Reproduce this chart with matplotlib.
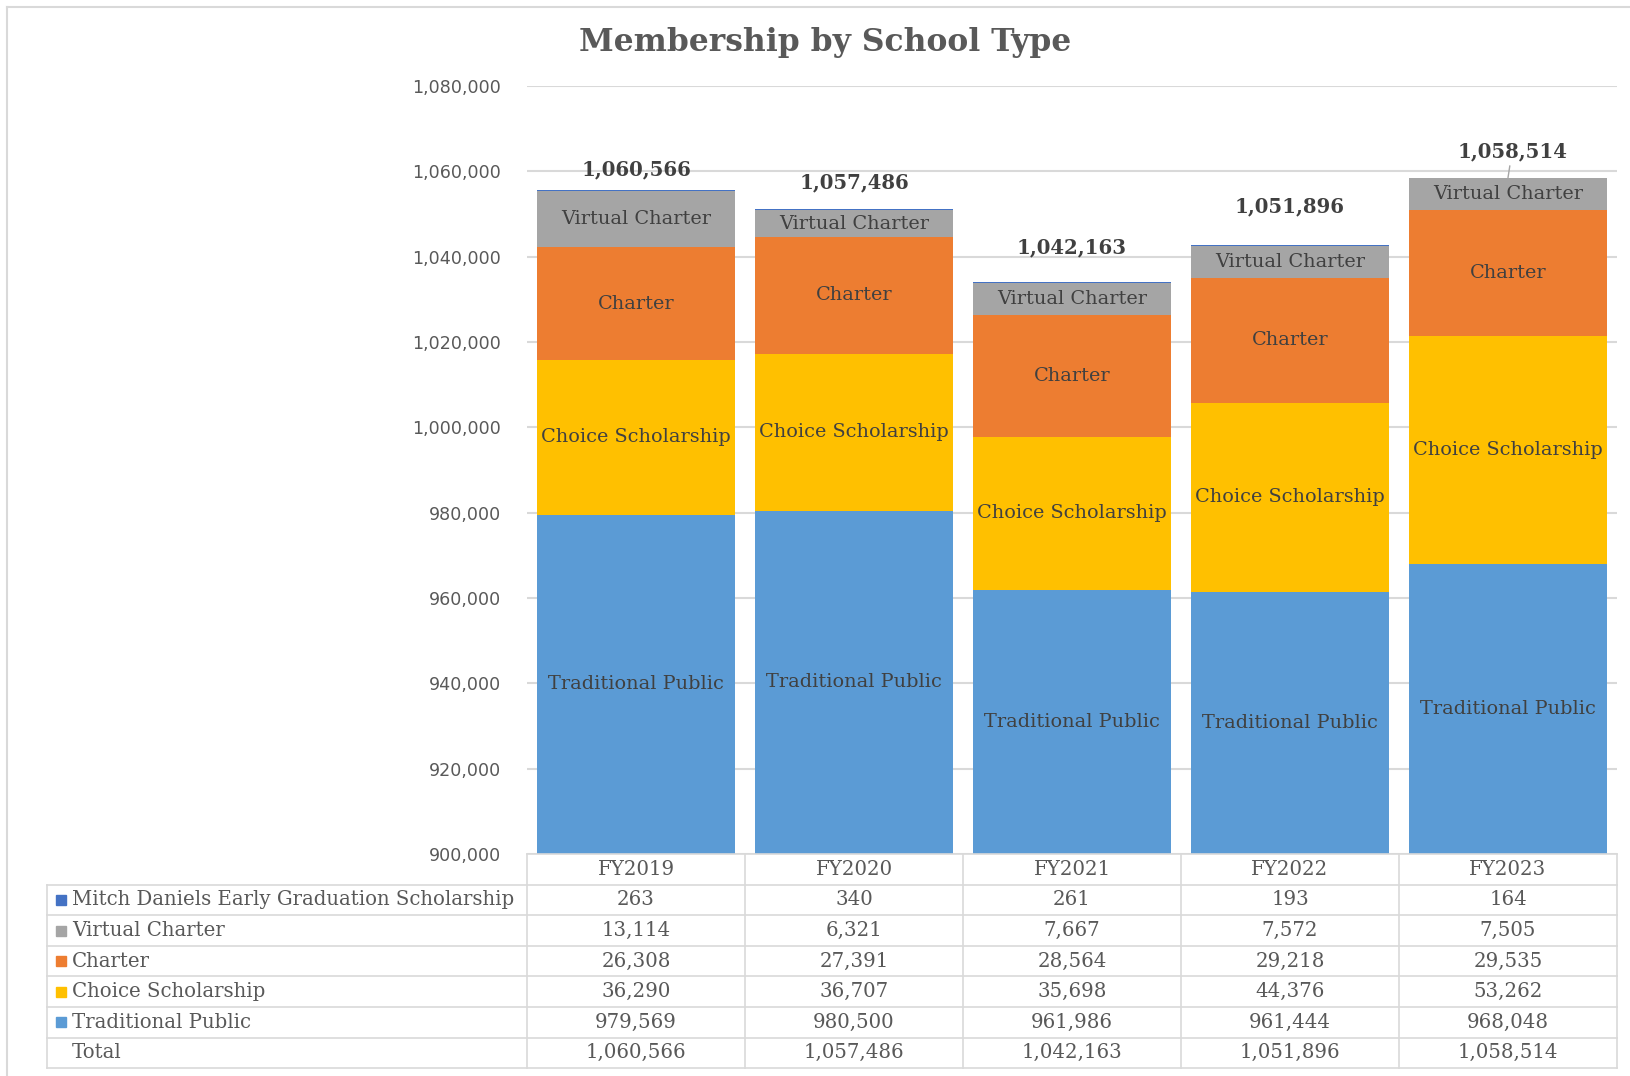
import numpy as np
import matplotlib.pyplot as plt
import matplotlib.transforms as mtransforms
from matplotlib.lines import Line2D
from matplotlib.patches import Rectangle

# data
years = ['FY2019', 'FY2020', 'FY2021', 'FY2022', 'FY2023']
trad = [979569, 980500, 961986, 961444, 968048]
choice = [36290, 36707, 35698, 44376, 53262]
charter = [26308, 27391, 28564, 29218, 29535]
virtual = [13114, 6321, 7667, 7572, 7505]
mitch = [263, 340, 261, 193, 164]
total = [1060566, 1057486, 1042163, 1051896, 1058514]

c_trad, c_choice, c_charter, c_virtual, c_mitch = '#5B9BD5', '#FFC000', '#ED7D31', '#A5A5A5', '#4472C4'
serif = 'DejaVu Serif'
txt = '#404040'
grid = '#D9D9D9'

W, H = 1631, 1076
fig = plt.figure(figsize=(W / 100, H / 100), dpi=100)

def fy(p):  # top-origin pixel -> figure fraction
    return 1 - p / H

def fx(p):
    return p / W

ax_l, ax_r, ax_t, ax_b = 527, 1617, 86, 854
ax = fig.add_axes([fx(ax_l), fy(ax_b), fx(ax_r - ax_l), (ax_b - ax_t) / H])
ax.set_ylim(900000, 1080000)
ax.set_xlim(-0.5, 4.5)
ax.set_yticks(np.arange(900000, 1080001, 20000))
ax.yaxis.set_major_formatter(plt.FuncFormatter(lambda v, p: f'{int(v):,}'))
ax.tick_params(axis='y', length=0, pad=18.5, labelsize=12.6, labelcolor='#595959')
ax.tick_params(axis='x', length=0, labelbottom=False)
for s in ax.spines.values():
    s.set_visible(False)
ax.grid(axis='y', color=grid, linewidth=1.5)
ax.set_axisbelow(True)

x = np.arange(len(years))
bw = 0.906
series = [('Traditional Public', trad, c_trad), ('Choice Scholarship', choice, c_choice),
          ('Charter', charter, c_charter), ('Virtual Charter', virtual, c_virtual),
          ('Mitch Daniels Early Graduation Scholarship', mitch, c_mitch)]
bottom = np.zeros(len(years))
for name, vals, col in series:
    vals = np.array(vals, dtype=float)
    ax.bar(x, vals, bw, bottom=bottom, color=col, zorder=2)
    if name != 'Mitch Daniels Early Graduation Scholarship':
        lo = np.maximum(bottom, 900000)
        mid = (lo + bottom + vals) / 2
        for xi, m in zip(x, mid):
            ax.text(xi, m, name, ha='center', va='center', fontsize=13.9,
                    family=serif, color=txt, zorder=3)
    bottom = bottom + vals

# total labels
for i, t in enumerate(total):
    if i == len(total) - 1:
        ax.annotate(f'{t:,}', xy=(x[i], bottom[i]), xytext=(4, 26), textcoords='offset pixels',
                    ha='center', va='center', fontsize=14.2, fontweight='bold', family=serif,
                    color=txt, arrowprops=dict(arrowstyle='-', color='#A6A6A6', lw=1,
                                               shrinkA=1, shrinkB=0))
    else:
        ax.text(x[i], t, f'{t:,}', ha='center', va='center', fontsize=14.2,
                fontweight='bold', family=serif, color=txt)

# title
fig.text(fx(825), fy(43), 'Membership by School Type', ha='center', va='center',
         fontsize=22.6, fontweight='bold', family=serif, color='#595959')

# data table below the chart
tr = mtransforms.blended_transform_factory(ax.transData, fig.transFigure)
row_h = 30.6
rows = [('Mitch Daniels Early Graduation Scholarship', mitch, c_mitch),
        ('Virtual Charter', virtual, c_virtual),
        ('Charter', charter, c_charter),
        ('Choice Scholarship', choice, c_choice),
        ('Traditional Public', trad, c_trad),
        ('Total', total, None)]
tab_l = 47
y0 = ax_b
y_end = ax_b + row_h * (len(rows) + 1)
lw = 1.2
tfs = 14.2
# header row
fig.add_artist(Line2D([-0.5, 4.5], [fy(y0), fy(y0)], transform=tr, color=grid, lw=lw))
for i, yr in enumerate(years):
    fig.text(x[i], fy(y0 + row_h / 2), yr, transform=tr, ha='center', va='center',
             fontsize=tfs, family=serif, color='#595959')
for b in np.arange(-0.5, 5.0, 1.0):
    fig.add_artist(Line2D([b, b], [fy(y0), fy(y_end)], transform=tr, color=grid, lw=lw))
fig.add_artist(Line2D([fx(tab_l), fx(tab_l)], [fy(y0 + row_h), fy(y_end)], color=grid, lw=lw))
for k in range(1, len(rows) + 2):
    yy = y0 + row_h * k
    fig.add_artist(Line2D([fx(tab_l), fx(ax_r)], [fy(yy), fy(yy)], color=grid, lw=lw))
for k, (name, vals, col) in enumerate(rows):
    yc = y0 + row_h * (k + 1.5)
    if col is not None:
        fig.add_artist(Rectangle((fx(56), fy(yc + 5)), fx(10), 10 / H, color=col))
    fig.text(fx(72), fy(yc), name, ha='left', va='center', fontsize=tfs,
             family=serif, color='#595959')
    for i, v in enumerate(vals):
        fig.text(x[i], fy(yc), f'{v:,}', transform=tr, ha='center', va='center',
                 fontsize=tfs, family=serif, color='#595959')

# outer chart border
fig.add_artist(Line2D([fx(7), fx(7)], [fy(7), 0], color=grid, lw=1.5))
fig.add_artist(Line2D([fx(7), 1], [fy(7), fy(7)], color=grid, lw=1.5))

fig.savefig('out.png', dpi=100, facecolor='white')
